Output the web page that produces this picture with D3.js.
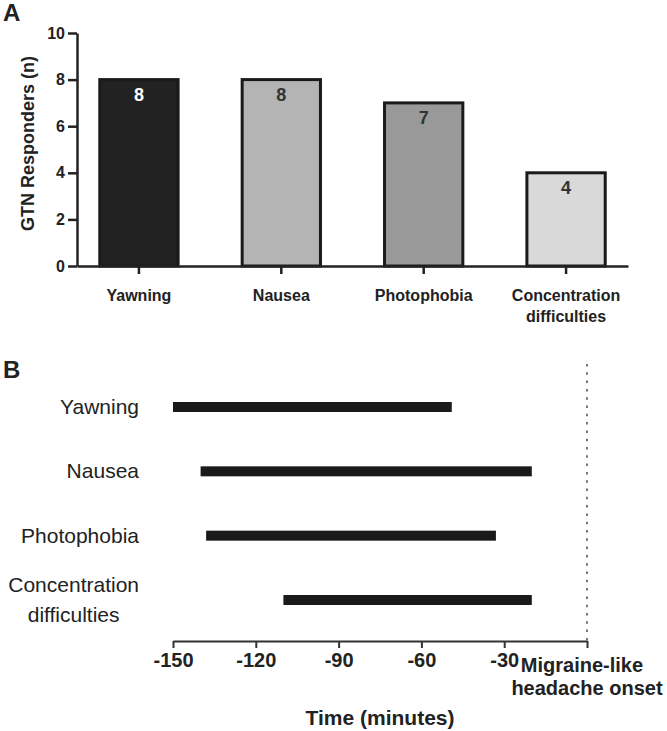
<!DOCTYPE html>
<html>
<head>
<meta charset="utf-8">
<script src="https://cdn.jsdelivr.net/npm/d3@7"></script>
<style>
  body { margin: 0; background: #fff; }
  svg { font-family: "Liberation Sans", Arial, sans-serif; display: block; }
</style>
</head>
<body>
<div class="chart"></div>
<script>
// panel A data
var symptoms = ["Yawning", "Nausea", "Photophobia", "Concentration difficulties"];
var responders = [8, 8, 7, 4];
var barColours = ["#222222", "#b4b4b4", "#999999", "#d9d9d9"];
var labelColours = ["#ffffff", "#333333", "#333333", "#333333"];
var responderTicks = [0, 2, 4, 6, 8, 10];

// panel B data (minutes before headache onset)
var onsetStart = [-150, -140, -138, -110];
var onsetEnd = [-49, -20, -33, -20];
var timeTicks = [-150, -120, -90, -60, -30, 0];
var onsetLabel = ["Migraine-like", "headache onset"];

var width = 667, height = 731;

var svg = d3.select('.chart')
    .append('svg')
    .attr('width', width)
    .attr('height', height);

// ---------- panel A ----------
var yScale = d3.scaleLinear()
    .domain([0, 10])
    .range([266, 33]);

var xBand = d3.scaleBand()
    .domain(symptoms)
    .range([77, 628])
    .paddingInner(0.45)
    .paddingOuter(0.16);

svg.append('text')
    .attr('x', 3)
    .attr('y', 21)
    .attr('font-size', 24)
    .attr('font-weight', 'bold')
    .attr('fill', '#222')
    .text('A');

svg.selectAll('rect.bar')
    .data(responders)
    .enter()
    .append('rect')
    .attr('class', 'bar')
    .attr('x', function (d, i) { return xBand(symptoms[i]); })
    .attr('y', function (d) { return yScale(d); })
    .attr('width', xBand.bandwidth())
    .attr('height', function (d) { return yScale(0) - yScale(d); })
    .attr('fill', function (d, i) { return barColours[i]; })
    .attr('stroke', '#1a1a1a')
    .attr('stroke-width', 3);

svg.selectAll('text.val')
    .data(responders)
    .enter()
    .append('text')
    .attr('class', 'val')
    .attr('x', function (d, i) { return xBand(symptoms[i]) + xBand.bandwidth() / 2; })
    .attr('y', function (d) { return yScale(d) + 21; })
    .attr('text-anchor', 'middle')
    .attr('font-size', 18)
    .attr('font-weight', 'bold')
    .attr('fill', function (d, i) { return labelColours[i]; })
    .text(function (d) { return d; });

var yAxis = d3.axisLeft(yScale)
    .tickValues(responderTicks)
    .tickSize(9)
    .tickSizeOuter(0)
    .tickPadding(3);

var gy = svg.append('g')
    .attr('transform', 'translate(77,0)')
    .call(yAxis);
gy.select('.domain').attr('stroke', '#222').attr('stroke-width', 2.5);
gy.selectAll('.tick line').attr('stroke', '#222').attr('stroke-width', 2.5);
gy.selectAll('.tick text')
    .attr('font-size', 16)
    .attr('font-weight', 'bold')
    .attr('fill', '#222')
    .attr('font-family', '"Liberation Sans", Arial, sans-serif');

var xAxis = d3.axisBottom(xBand)
    .tickSize(8)
    .tickSizeOuter(0)
    .tickFormat('');

var gx = svg.append('g')
    .attr('transform', 'translate(0,' + yScale(0) + ')')
    .call(xAxis);
gx.select('.domain').attr('stroke', '#222').attr('stroke-width', 2.5);
gx.selectAll('.tick line').attr('stroke', '#222').attr('stroke-width', 2.5);
gx.selectAll('.tick').each(function (d) {
    var lines = d.split(' ');
    var t = d3.select(this).append('text')
        .attr('text-anchor', 'middle')
        .attr('font-size', 16)
        .attr('font-weight', 'bold')
        .attr('fill', '#222');
    lines.forEach(function (l, i) {
        t.append('tspan').attr('x', 0).attr('y', 35 + i * 21).text(l);
    });
});

svg.append('text')
    .attr('transform', 'translate(34,' + (yScale(5) - 6) + ') rotate(-90)')
    .attr('text-anchor', 'middle')
    .attr('font-size', 18)
    .attr('font-weight', 'bold')
    .attr('fill', '#222')
    .text('GTN Responders (n)');

// ---------- panel B ----------
svg.append('text')
    .attr('x', 3)
    .attr('y', 378)
    .attr('font-size', 24)
    .attr('font-weight', 'bold')
    .attr('fill', '#222')
    .text('B');

var tScale = d3.scaleLinear()
    .domain([-150, 0])
    .range([173, 587]);

var rowScale = d3.scalePoint()
    .domain(symptoms)
    .range([407, 600]);

// onset reference line
svg.append('line')
    .attr('x1', tScale(0))
    .attr('x2', tScale(0))
    .attr('y1', 364)
    .attr('y2', 641)
    .attr('stroke', '#777')
    .attr('stroke-width', 2)
    .attr('stroke-dasharray', '2.5,5.8');

svg.selectAll('rect.span')
    .data(onsetStart)
    .enter()
    .append('rect')
    .attr('class', 'span')
    .attr('x', function (d) { return tScale(d); })
    .attr('y', function (d, i) { return rowScale(symptoms[i]) - 5; })
    .attr('width', function (d, i) { return tScale(onsetEnd[i]) - tScale(d); })
    .attr('height', 10)
    .attr('fill', '#1a1a1a');

symptoms.forEach(function (s) {
    var lines = s.split(' ');
    var y = rowScale(s);
    var t = svg.append('text')
        .attr('font-size', 21)
        .attr('fill', '#222');
    var spans = lines.map(function (l, i) {
        return t.append('tspan')
            .attr('y', y + 7 + (i - (lines.length - 1) / 2) * 30)
            .text(l);
    });
    if (lines.length === 1) {
        t.attr('text-anchor', 'end');
        spans[0].attr('x', 139);
    } else {
        var w = d3.max(spans, function (sp) { return sp.node().getComputedTextLength(); });
        t.attr('text-anchor', 'middle');
        spans.forEach(function (sp) { sp.attr('x', 139 - w / 2); });
    }
});

var tAxis = d3.axisBottom(tScale)
    .tickValues(timeTicks)
    .tickSize(7)
    .tickSizeOuter(0)
    .tickPadding(6)
    .tickFormat(function (d) { return d === 0 ? '' : d; });

var gt = svg.append('g')
    .attr('transform', 'translate(0,641)')
    .call(tAxis);
gt.select('.domain').attr('stroke', '#333').attr('stroke-width', 2);
gt.selectAll('.tick line').attr('stroke', '#333').attr('stroke-width', 2);
gt.selectAll('.tick text')
    .attr('font-size', 20)
    .attr('font-weight', 'bold')
    .attr('fill', '#222')
    .attr('y', 12)
    .attr('font-family', '"Liberation Sans", Arial, sans-serif');

var onset = gt.append('text')
    .attr('text-anchor', 'middle')
    .attr('font-size', 20)
    .attr('font-weight', 'bold')
    .attr('fill', '#222');
onsetLabel.forEach(function (l, i) {
    onset.append('tspan')
        .attr('x', tScale(0) - (i === 0 ? 5 : 0))
        .attr('y', 31 + i * 23)
        .text(l);
});

svg.append('text')
    .attr('x', (tScale(-150) + tScale(0)) / 2)
    .attr('y', 725)
    .attr('text-anchor', 'middle')
    .attr('font-size', 21)
    .attr('font-weight', 'bold')
    .attr('fill', '#222')
    .text('Time (minutes)');
</script>
</body>
</html>
